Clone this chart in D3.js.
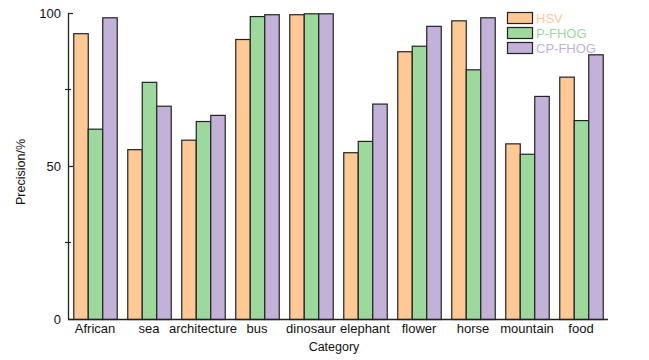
<!DOCTYPE html>
<html><head><meta charset="utf-8">
<script src="https://cdn.jsdelivr.net/npm/d3@7"></script>
<style>body{margin:0;background:#fff}svg{display:block;font-family:"Liberation Sans",Arial,sans-serif}</style>
</head><body><svg id="c" width="649" height="360"></svg>
<script>
const categories = ["African","sea","architecture","bus","dinosaur","elephant","flower","horse","mountain","food"];
const seriesNames = ["HSV","P-FHOG","CP-FHOG"];
const hsv    = [93.4, 55.5, 58.6, 91.5, 99.6, 54.5, 87.5, 97.6, 57.4, 79.2];
const pfhog  = [62.2, 77.5, 64.7, 99.0, 99.9, 58.2, 89.3, 81.6, 54.0, 65.0];
const cpfhog = [98.6, 69.7, 66.7, 99.6, 99.9, 70.4, 95.8, 98.6, 72.9, 86.5];
const yMajorTicks = [0, 50, 100];
const yMinorTicks = [25, 75];
const colors = ["#FFC996", "#9DD89D", "#C2B2D8"];

const svg = d3.select("#c");
const m = {l:68, r:41, t:13, b:41};
const W = 649, H = 360;
const x0 = d3.scaleBand().domain(categories).range([m.l, W - m.r]).paddingInner(0.195).paddingOuter(0.0975);
const x1 = d3.scaleBand().domain(seriesNames).range([0, x0.bandwidth()]);
const y = d3.scaleLinear().domain([0, 100]).range([H - m.b, m.t]);
const series = [hsv, pfhog, cpfhog];

// bars
categories.forEach((c, i) => {
  seriesNames.forEach((s, j) => {
    svg.append("rect")
      .attr("x", x0(c) + x1(s) + 0.5)
      .attr("y", y(series[j][i]) + 0.5)
      .attr("width", x1.bandwidth())
      .attr("height", y(0) - y(series[j][i]))
      .attr("fill", colors[j])
      .attr("stroke", "#222")
      .attr("stroke-width", 1.2);
  });
});

// y axis
const yAxis = svg.append("g").attr("transform", `translate(${m.l},0)`)
  .call(d3.axisRight(y).tickValues(yMajorTicks).tickSize(5).tickFormat(""));
yAxis.select(".domain").attr("d", `M0.5,${m.t}V${H - m.b}`).attr("stroke", "#222").attr("stroke-width", 1.3);
yAxis.selectAll(".tick line").attr("stroke", "#222").attr("stroke-width", 1.2);
yMinorTicks.forEach(v => {
  svg.append("line").attr("x1", m.l - 3).attr("x2", m.l + 3).attr("y1", y(v)).attr("y2", y(v))
    .attr("stroke", "#222").attr("stroke-width", 1.2);
});
yMajorTicks.forEach(v => {
  svg.append("text").attr("x", m.l - 7).attr("y", y(v)).attr("dy", "0.35em")
    .attr("text-anchor", "end").attr("font-size", 13).attr("fill", "#111").text(v);
});

// x axis
const xAxis = svg.append("g").attr("transform", `translate(0,${H - m.b})`)
  .call(d3.axisBottom(x0).tickSize(0).tickPadding(5));
xAxis.select(".domain").attr("d", `M${m.l},0.5H${W - m.r}`).attr("stroke", "#222").attr("stroke-width", 1.5);
xAxis.selectAll(".tick text").attr("font-size", 13).attr("fill", "#111")
  .attr("font-family", '"Liberation Sans",Arial,sans-serif');

// axis titles
svg.append("text").attr("x", (m.l + W - m.r) / 2 - 4).attr("y", 351).attr("text-anchor", "middle")
  .attr("font-size", 12.5).attr("fill", "#111").text("Category");
svg.append("text").attr("transform", `translate(25,${(m.t + H - m.b) / 2 + 6}) rotate(-90)`)
  .attr("text-anchor", "middle").attr("font-size", 12.5).attr("fill", "#111").text("Precision/%");

// legend
seriesNames.forEach((s, j) => {
  const ly = 12 + j * 15;
  svg.append("rect").attr("x", 507.5).attr("y", ly + 0.5).attr("width", 25).attr("height", 11)
    .attr("fill", colors[j]).attr("stroke", "#222").attr("stroke-width", 1.2);
  svg.append("text").attr("x", 536).attr("y", ly + 6).attr("dy", "0.35em")
    .attr("font-size", 13).attr("fill", colors[j]).text(s);
});
</script></body></html>
